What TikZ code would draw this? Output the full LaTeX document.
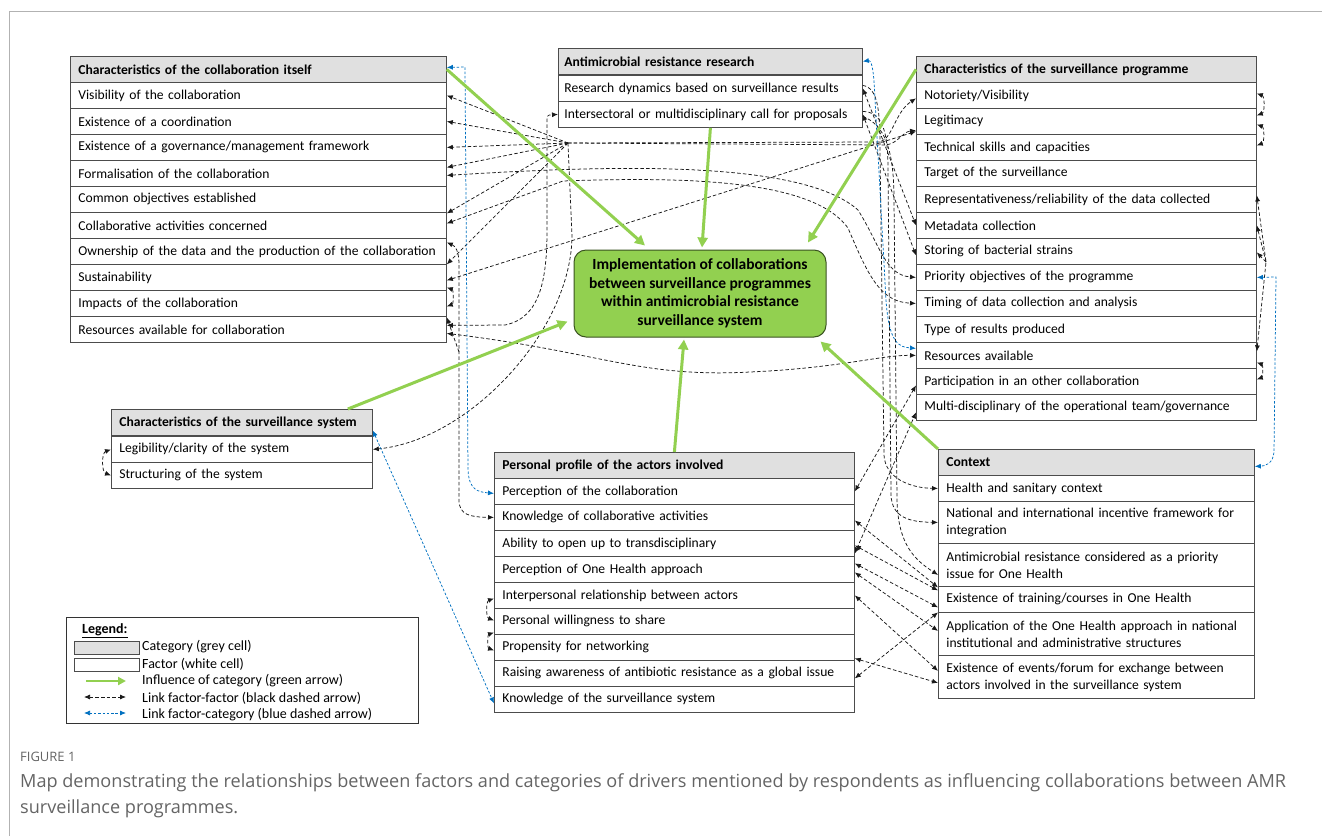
\documentclass[tikz,border=0pt]{standalone}
\usepackage{fontspec}
\setmainfont{Carlito}
\newfontfamily\capfont{Open Sans}
\usepackage{tikz}
\usetikzlibrary{arrows.meta,calc}
\definecolor{grn}{RGB}{146,208,80}
\definecolor{blu}{RGB}{0,112,192}
\definecolor{capgray}{RGB}{100,100,100}
\tikzset{
  cat/.style={draw=black!70,fill=black!12,line width=0.8pt,anchor=north west,minimum height=26pt,
    inner xsep=8pt,inner ysep=2pt,align=left,font=\bfseries\fontsize{13.6}{17}\selectfont},
  fac/.style={draw=black!70,fill=white,line width=0.8pt,anchor=north west,minimum height=26pt,
    inner xsep=8pt,inner ysep=2pt,align=left,font=\fontsize{13.6}{17}\selectfont},
  impl/.style={draw=black!60!grn,fill=grn,line width=1pt,rounded corners=12pt,minimum width=252pt,
    minimum height=87pt,align=center,font=\bfseries\fontsize{15.5}{18.5}\selectfont},
  infl/.style={grn,line width=3pt,-{Triangle[length=10pt,width=10pt]}},
  ff/.style={black!90,line width=0.75pt,dash pattern=on 3.5pt off 2.2pt,
    {Latex[length=6pt,width=5pt]}-{Latex[length=6pt,width=5pt]}},
  ffo/.style={black!90,line width=0.75pt,dash pattern=on 3.5pt off 2.2pt,-{Latex[length=6pt,width=5pt]}},
  fc/.style={blu,line width=0.75pt,dash pattern=on 2.5pt off 1.8pt,
    {Latex[length=6pt,width=5pt]}-{Latex[length=6pt,width=5pt]}},
  lgtext/.style={anchor=west,inner sep=0pt,font=\fontsize{14}{16}\selectfont}
}
\begin{document}
\begin{tikzpicture}[x=1pt,y=-1pt]
\useasboundingbox (0,0) rectangle (1322,836);
\draw[black!30,line width=1pt] (9.5,836) -- (9.5,11) -- (1322,11);

% categories and factors
\node[cat,text width=360pt] (a0) at (70,56) {Characteristics of the collaboration itself};
\foreach \t [count=\i] in {Visibility of the collaboration,Existence of a coordination,
  Existence of a governance/management framework,Formalisation of the collaboration,
  Common objectives established,Collaborative activities concerned,
  Ownership of the data and the production of the collaboration,Sustainability,
  Impacts of the collaboration,Resources available for collaboration}
  \node[fac,text width=360pt] (a\i) at (70,{56+26*\i}) {\t};

\node[cat,text width=292pt,inner xsep=6pt] (b0) at (558,48) {Antimicrobial resistance research};
\node[fac,text width=292pt,inner xsep=6pt] (b1) at (558,75) {Research dynamics based on surveillance results};
\node[fac,text width=292pt,inner xsep=6pt] (b2) at (558,101) {Intersectoral or multidisciplinary call for proposals};

\node[cat,text width=324pt] (c0) at (916,56) {Characteristics of the surveillance programme};
\foreach \t [count=\i] in {Notoriety/Visibility,Legitimacy,Technical skills and capacities,
  Target of the surveillance,Representativeness/reliability of the data collected,
  Metadata collection,Storing of bacterial strains,Priority objectives of the programme,
  Timing of data collection and analysis,Type of results produced,Resources available,
  Participation in an other collaboration,Multi-disciplinary of the operational team/governance}
  \node[fac,text width=324pt] (c\i) at (916,{56+26*\i}) {\t};

\node[cat,text width=245pt] (d0) at (111,409) {Characteristics of the surveillance system};
\node[fac,text width=245pt] (d1) at (111,436) {Legibility/clarity of the system};
\node[fac,text width=245pt] (d2) at (111,462) {Structuring of the system};

\node[cat,text width=344pt] (e0) at (494,452) {Personal profile of the actors involved};
\foreach \t [count=\i] in {Perception of the collaboration,Knowledge of collaborative activities,
  Ability to open up to transdisciplinary,Perception of One Health approach,
  Interpersonal relationship between actors,Personal willingness to share,
  Propensity for networking,Raising awareness of antibiotic resistance as a global issue,
  Knowledge of the surveillance system}
  \node[fac,text width=344pt] (e\i) at (494,{452+26*\i}) {\t};

\node[cat,text width=300pt] (f0) at (938,449) {Context};
\node[fac,text width=300pt] (f1) at (938,475) {Health and sanitary context};
\node[fac,text width=300pt,minimum height=42pt] (f2) at (938,501) {National and international incentive framework for\\integration};
\node[fac,text width=300pt,minimum height=43pt] (f3) at (938,543) {Antimicrobial resistance considered as a priority\\issue for One Health};
\node[fac,text width=300pt] (f4) at (938,586) {Existence of training/courses in One Health};
\node[fac,text width=300pt,minimum height=43pt] (f5) at (938,612) {Application of the One Health approach in national\\institutional and administrative structures};
\node[fac,text width=300pt,minimum height=43pt] (f6) at (938,655) {Existence of events/forum for exchange between\\actors involved in the surveillance system};

\node[impl] (impl) at (700,293.5) {Implementation of collaborations\\between surveillance programmes\\within antimicrobial resistance\\surveillance system};

\coordinate (hub) at (568,143);
\coordinate (hubc) at (1266,262);

% factor-factor links
\draw[ffo] (hub) -- (a1.east);
\draw[ffo] (hub) -- (a2.east);
\draw[ffo] (hub) -- (a3.east);
\draw[ffo] (hub) -- ([yshift=6pt]a4.east);
\draw[ffo] (hub) -- ([yshift=12pt]a6.east);
\draw[ffo] (hub) -- ([yshift=13pt]a8.east);
\draw[ffo] (hub) -- (880,142) .. controls (893,138) and (895,112) .. ([yshift=-3pt]c1.west);
\draw[ffo] (hub) -- (885,145) .. controls (898,144) and (902,132) .. ([yshift=-9pt]c2.west);
\draw[ff] ([yshift=-2pt]a4.east) .. controls (600,166) and (800,158) .. (858,210) .. controls (880,245) and (885,275) .. (c8.west);
\draw[ff] ([yshift=2pt]a6.east) -- (563,181) .. controls (700,176) and (815,182) .. (848,228) .. controls (868,275) and (880,302) .. (c9.west);
\draw[ff] ([yshift=-3pt]a8.east) -- ([yshift=-10pt]c2.west);
\draw[ff] ([yshift=-10pt]a8.east) to[bend left=70] ([yshift=-3pt]a9.east);
\draw[ff] ([yshift=9pt]a7.east) .. controls (455,246) and (459,250) .. (459,265) -- (459,500) .. controls (459,515) and (470,517) .. (e2.west);
\coordinate (imp) at (459,352);
\draw[ffo] (imp) -- ([yshift=-14pt]a9.east);
\draw[ff] ([yshift=4pt]a10.east) -- (505,325) .. controls (540,318) and (547,280) .. (547,230) -- (547,124) .. controls (547,115) .. (b2.west);
\draw[ff] ([yshift=-4pt]a10.east) .. controls (600,352) and (640,378) .. (750,372) .. controls (840,368) and (880,355) .. (c11.west);
\draw[ffo] (hub) -- (572,235) .. controls (572,330) and (470,440) .. (d1.east);
\draw[ff] (b1.east) -- (c6.west);
\draw[ff] (b2.east) -- ([yshift=-4pt]c7.west);
\draw[ffo] ([yshift=3pt]b1.east) .. controls (878,88) and (880,110) .. (880,150) -- (884,455) .. controls (885,478) and (910,488) .. (f1.west);
\draw[ffo] ([yshift=3pt]b2.east) .. controls (882,112) and (888,130) .. (888,170) -- (891,495) .. controls (892,518) and (910,522) .. (f2.west);
\draw[ffo] ([yshift=-2pt]b2.east) .. controls (885,125) and (894,150) .. (894,200) -- (897,500) .. controls (898,545) and (915,560) .. ([yshift=-10pt]f3.west);
\draw[ff] (e1.east) -- ([yshift=-4pt]c12.west);
\draw[ff] ([yshift=-10pt]e3.east) -- ([yshift=-5pt]c13.west);
\draw[ff] ([yshift=-3pt]e2.east) -- ([yshift=12pt]f4.west);
\draw[ff] ([yshift=-2pt]e3.east) -- ([yshift=9pt]f4.west);
\draw[ff] ([yshift=6pt]e4.east) -- ([yshift=-8pt]f4.west);
\draw[ff] ([yshift=-3pt]e4.east) -- ([yshift=3pt]f5.west);
\draw[ff] (e5.east) -- ([yshift=6pt]f6.west);
\draw[ff] ([yshift=-11pt]e7.east) -- ([yshift=-6pt]f6.west);
\draw[ff] ([yshift=-5pt]e8.east) -- ([yshift=-13pt]f4.west);
\draw[ff] ([yshift=4pt]c5.east) -- (hubc) -- ([yshift=4pt]c11.east);
\draw[ffo] (hubc) -- (c6.east);
\draw[ffo] (hubc) -- ([yshift=-1pt]c7.east);
\draw[ff] ([yshift=2pt]c1.east) to[bend left=70] ([yshift=6pt]c2.east);
\draw[ff] ([yshift=-3pt]c2.east) to[bend left=70] ([yshift=2pt]c3.east);
\draw[ff] ([yshift=-7pt]c11.east) to[bend left=70] ([yshift=2pt]c12.east);
\draw[ff] (d1.west) to[bend right=70] (d2.west);
\draw[ff] ([yshift=-3pt]e5.west) to[bend right=70] ([yshift=1pt]e6.west);
\draw[ff] ([yshift=-11pt]e6.west) to[bend right=70] ([yshift=-3pt]e7.west);

% factor-category links
\draw[fc] ([yshift=2pt]a0.east) -- (465,67) -- (468,470) .. controls (469,490) and (478,492) .. ([yshift=-2pt]e1.west);
\draw[fc] (b0.east) .. controls (872,60) and (874,72) .. (875,100) -- (886,300) .. controls (889,345) and (900,347) .. ([yshift=7pt]c11.west);
\draw[fc] (c8.east) -- (1276,277) -- (1274,452) .. controls (1273,464) and (1265,466) .. ([yshift=-4pt]f0.east);
\draw[fc] ([yshift=-8pt]d0.east) -- ([yshift=-4pt]e9.west);

% influence of categories
\draw[infl] (a0.east) -- ([xshift=-55pt,yshift=4pt]impl.north);
\draw[infl] (b2.south) -- ([xshift=2pt,yshift=2pt]impl.north);
\draw[infl] (c0.west) -- ([xshift=108pt,yshift=7pt]impl.north);
\draw[infl] ([xshift=-25pt]d0.north east) -- ([xshift=-6pt,yshift=-28pt]impl.west);
\draw[infl] (e0.north) -- ([xshift=-16pt,yshift=-2pt]impl.south);
\draw[infl] (f0.north west) -- ([xshift=-6pt,yshift=-4pt]impl.south east);

% legend
\node[draw=black!80,line width=0.8pt,anchor=north west,minimum width=352pt,minimum height=106pt,inner sep=0pt] (leg) at (66,617) {};
\node[lgtext,font=\bfseries\fontsize{14}{16}\selectfont] (legt) at (82,631) {\underline{Legend:}};
\node[cat,minimum width=65pt,minimum height=13pt,inner sep=0pt] (lgc) at (74,641) {};
\node[fac,minimum width=65pt,minimum height=13pt,inner sep=0pt] (lgf) at (74,658) {};
\coordinate (lg1a) at (86,681); \coordinate (lg1b) at (126,681);
\coordinate (lg2a) at (84,697); \coordinate (lg2b) at (126,697);
\coordinate (lg3a) at (84,713); \coordinate (lg3b) at (126,713);
\draw[infl,line width=2.5pt,-{Triangle[length=8pt,width=8pt]}] (lg1a) -- (lg1b);
\draw[ff] (lg2a) -- (lg2b);
\draw[fc] (lg3a) -- (lg3b);
\node[lgtext] (lt1) at (142,647) {Category (grey cell)};
\node[lgtext] (lt2) at (142,664) {Factor (white cell)};
\node[lgtext] (lt3) at (142,681) {Influence of category (green arrow)};
\node[lgtext] (lt4) at (142,698) {Link factor-factor (black dashed arrow)};
\node[lgtext] (lt5) at (142,715) {Link factor-category (blue dashed arrow)};

% caption
\node[anchor=west,inner sep=0pt,text=capgray,font=\capfont\fontsize{13}{15}\selectfont] (fig) at (20,757) {FIGURE 1};
\node[anchor=north west,inner sep=0pt,align=left,text=capgray,font=\capfont\fontsize{18.1}{26}\selectfont] (cap) at (20,773)
  {Map demonstrating the relationships between factors and categories of drivers mentioned by respondents as influencing collaborations between AMR\\surveillance programmes.};
\end{tikzpicture}
\end{document}
